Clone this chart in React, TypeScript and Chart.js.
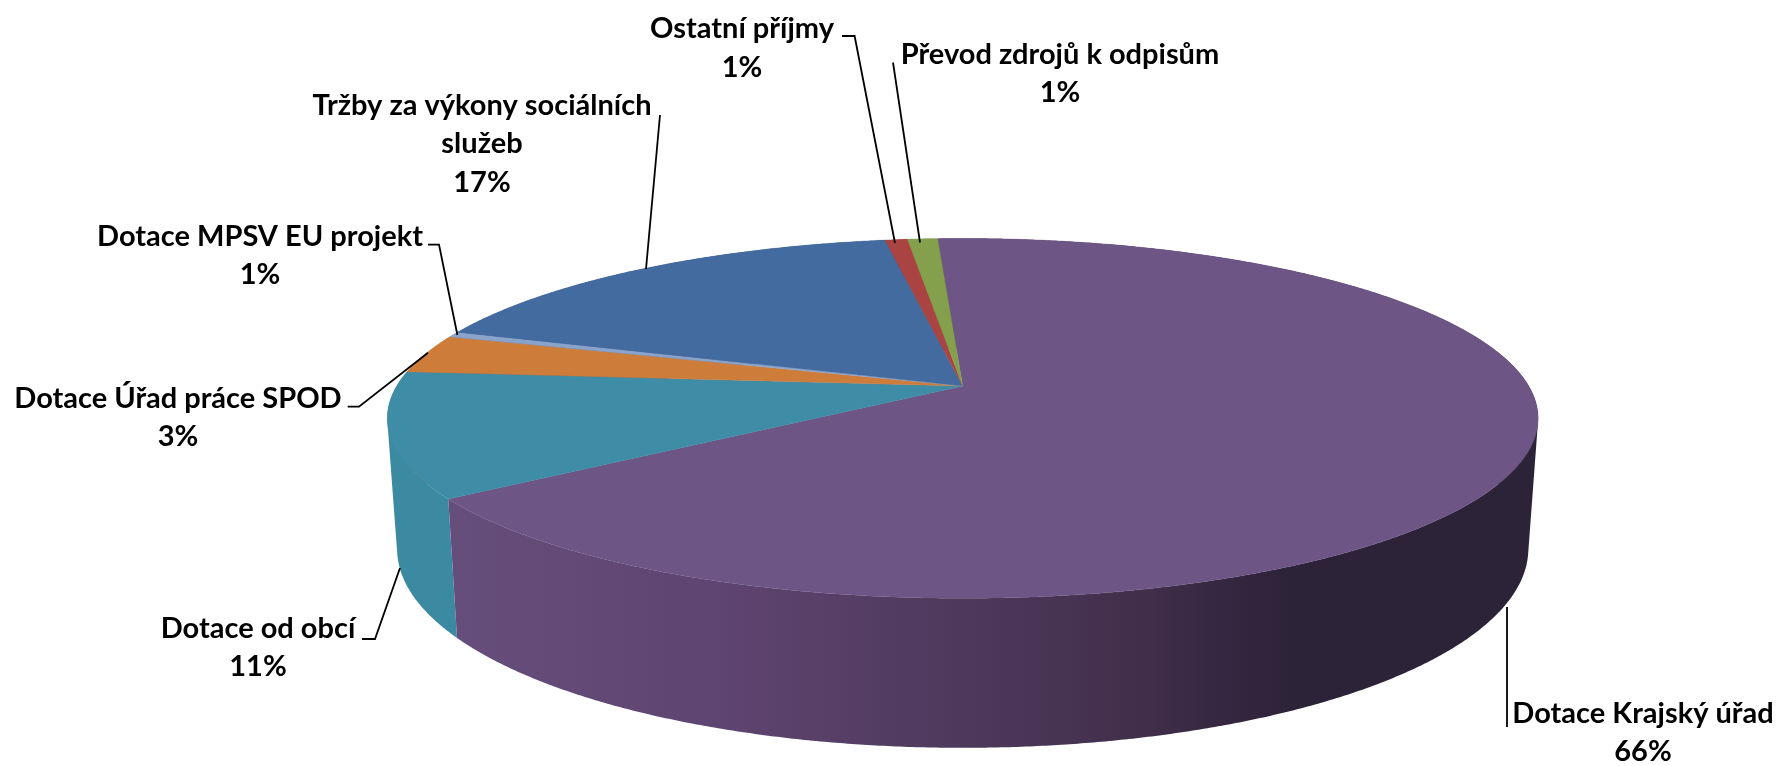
import React, { useEffect, useRef } from "react";
import { Chart, registerables } from "chart.js";

Chart.register(...registerables);

const categories = [
  "Dotace Krajský úřad",
  "Dotace od obcí",
  "Dotace Úřad práce SPOD",
  "Dotace MPSV EU projekt",
  "Tržby za výkony sociálních\nslužeb",
  "Ostatní příjmy",
  "Převod zdrojů k odpisům",
];
const shares = [65.93, 11.2, 3.47, 0.5, 17.1, 0.75, 1];
const topColors = ["#6d5585", "#3f8ca6", "#cd7c3a", "#8aa3cb", "#436b9f", "#a94442", "#84a04d"];
const wallColors = ["#5a4269", "#3b8aa2", "#a8652f", "#7085a8", "#365680", "#8a3735", "#6b823f"];
const startRotation = -3;

// layout (pixels on the page)
const APEX_X = 962.7;
const APEX_Y = 386;
const RADIUS_X = 566;
const RADIUS_Y = 174.1;
const PERSPECTIVE = 0.18;
const BOTTOM_SCALE_X = 0.983;
const BOTTOM_SCALE_Y = 1.106;
const BOTTOM_SHIFT = 127;

const FONT = "bold 29px Lato, 'Open Sans', sans-serif";
const LINE_HEIGHT = 38.5;
const labelCentres: [number, number][] = [
  [1643, 713.5],
  [258, 628.5],
  [178, 398.5],
  [260, 236.5],
  [482, 105.5],
  [742, 29],
  [1060, 54.5],
];
const leaders: [number, number][][] = [
  [[1507, 607], [1507, 727]],
  [[400, 568], [375, 639], [362, 639]],
  [[428, 352.7], [359, 406.7], [347.7, 406.7]],
  [[457.4, 335], [439, 244.6], [428, 244.6]],
  [[646, 269], [660, 115]],
  [[895, 243], [854.6, 36], [842, 36]],
  [[920, 242.5], [893, 62.5]],
];

type Pt = [number, number];

function project(a: number): Pt {
  const u = Math.cos(a);
  const v = Math.sin(a);
  const s = 1 / (1 - PERSPECTIVE * v);
  return [APEX_X + RADIUS_X * u * s, APEX_Y + RADIUS_Y * v * s];
}
function lower(p: Pt): Pt {
  return [
    APEX_X + (p[0] - APEX_X) * BOTTOM_SCALE_X,
    APEX_Y + (p[1] - APEX_Y) * BOTTOM_SCALE_Y + BOTTOM_SHIFT,
  ];
}
function samples(start: number, end: number): Pt[] {
  const n = Math.max(2, Math.ceil((end - start) / 0.006));
  const pts: Pt[] = [];
  for (let i = 0; i <= n; i++) pts.push(project(start + ((end - start) * i) / n));
  return pts;
}
function addQuad(ctx: CanvasRenderingContext2D, quad: Pt[]) {
  let area = 0;
  quad.forEach((p, i) => {
    const q = quad[(i + 1) % quad.length];
    area += p[0] * q[1] - q[0] * p[1];
  });
  const ordered = area < 0 ? [...quad].reverse() : quad;
  ordered.forEach((p, k) => (k ? ctx.lineTo(p[0], p[1]) : ctx.moveTo(p[0], p[1])));
  ctx.closePath();
}

const piePlugin = {
  id: "perspectivePie",
  beforeDatasetsDraw(chart: any) {
    const ctx = chart.ctx as CanvasRenderingContext2D;
    const arcs = chart.getDatasetMeta(0).data as any[];

    ctx.save();
    // walls, back ones first
    for (let i = arcs.length - 1; i >= 0; i--) {
      const pts = samples(arcs[i].startAngle, arcs[i].endAngle);
      ctx.beginPath();
      for (let k = 0; k < pts.length - 1; k++) {
        addQuad(ctx, [pts[k], pts[k + 1], lower(pts[k + 1]), lower(pts[k])]);
      }
      if (i === 0) {
        const g = ctx.createLinearGradient(450, 0, 1540, 0);
        g.addColorStop(0, "#664e7c");
        g.addColorStop(0.25, "#5e4470");
        g.addColorStop(0.5, "#4c3759");
        g.addColorStop(0.64, "#412e4a");
        g.addColorStop(0.72, "#33263f");
        g.addColorStop(0.78, "#2c2338");
        g.addColorStop(1, "#2d2338");
        ctx.fillStyle = g;
      } else {
        ctx.fillStyle = wallColors[i];
      }
      ctx.fill();
    }
    // tops
    arcs.forEach((arc, i) => {
      ctx.beginPath();
      ctx.moveTo(APEX_X, APEX_Y);
      samples(arc.startAngle, arc.endAngle).forEach((p) => ctx.lineTo(p[0], p[1]));
      ctx.closePath();
      ctx.fillStyle = topColors[i];
      ctx.strokeStyle = topColors[i];
      ctx.lineWidth = 0.4;
      ctx.fill();
      ctx.stroke();
    });
    ctx.restore();
    return false;
  },
  afterDraw(chart: any) {
    const ctx = chart.ctx as CanvasRenderingContext2D;
    const values = chart.data.datasets[0].data as number[];
    const total = values.reduce((a, b) => a + b, 0);
    ctx.save();
    ctx.strokeStyle = "#000";
    ctx.lineWidth = 1.8;
    leaders.forEach((line) => {
      ctx.beginPath();
      line.forEach((p, k) => (k ? ctx.lineTo(p[0], p[1]) : ctx.moveTo(p[0], p[1])));
      ctx.stroke();
    });
    ctx.fillStyle = "#000";
    ctx.font = FONT;
    ctx.textAlign = "center";
    ctx.textBaseline = "middle";
    (chart.data.labels as string[]).forEach((label, i) => {
      const lines = [...label.split("\n"), `${Math.round((values[i] / total) * 100)}%`];
      const [x, y] = labelCentres[i];
      lines.forEach((text, k) => ctx.fillText(text, x, y + k * LINE_HEIGHT));
    });
    ctx.restore();
  },
};

export default function App() {
  const ref = useRef<HTMLCanvasElement>(null);
  useEffect(() => {
    const chart = new Chart(ref.current as HTMLCanvasElement, {
      type: "pie",
      data: {
        labels: categories,
        datasets: [{ data: shares, backgroundColor: topColors, borderWidth: 0 }],
      },
      options: {
        responsive: false,
        animation: false,
        devicePixelRatio: 1,
        rotation: startRotation,
        plugins: { legend: { display: false }, tooltip: { enabled: false } },
      } as any,
      plugins: [piePlugin as any],
    });
    return () => chart.destroy();
  }, []);
  return (
    <canvas
      ref={ref}
      width={1780}
      height={766}
      style={{ position: "absolute", left: 0, top: 0, width: 1780, height: 766, background: "#fff" }}
    />
  );
}
